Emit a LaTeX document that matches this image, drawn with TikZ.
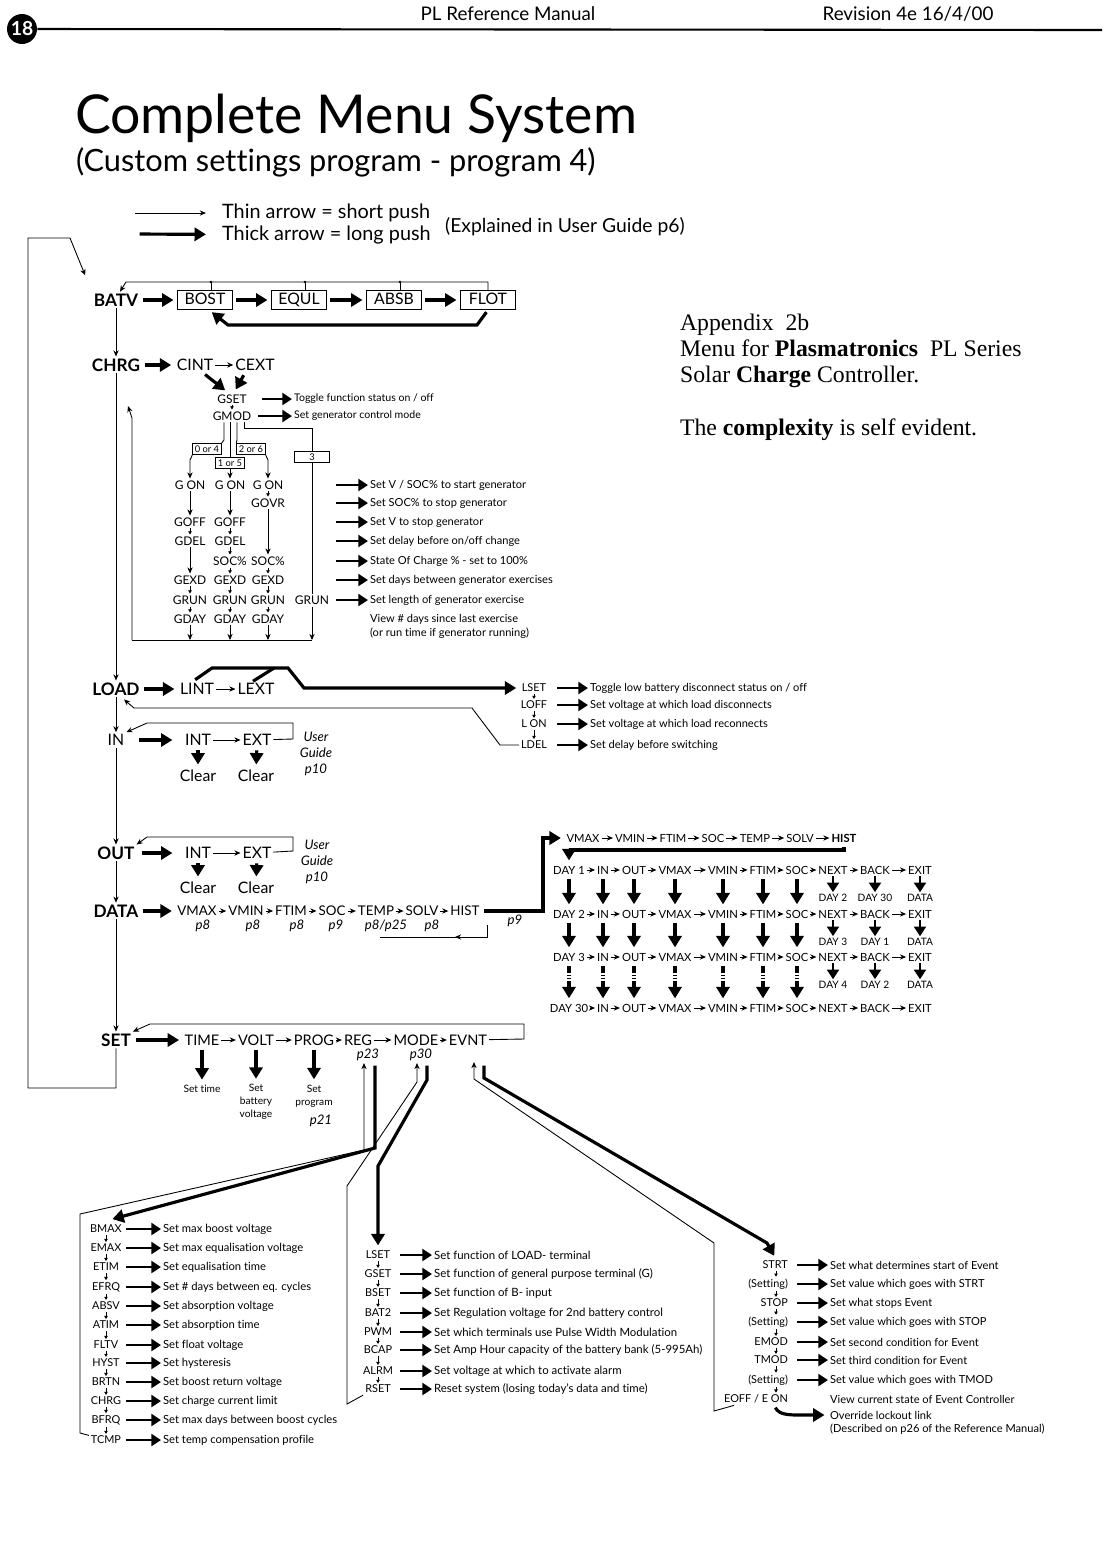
\documentclass[tikz,border=0pt]{standalone}
\usepackage{fontspec}
\setmainfont{Lato}[Ligatures=NoCommon]
\newfontfamily\appendixfont{Liberation Serif}
\usetikzlibrary{arrows.meta}

\begin{document}
\begin{tikzpicture}[
	x=0.02cm, y=-0.02cm,
	every node/.style={inner sep=1pt},
	pagehead/.style={font=\fontsize{10.7}{12}\selectfont},
	mtop/.style={font=\fontsize{9.8}{11}\selectfont\bfseries},
	msub/.style={font=\fontsize{9}{11}\selectfont},
	mrow/.style={font=\fontsize{7.6}{9}\selectfont},
	mset/.style={font=\fontsize{8.3}{10}\selectfont},
	mitem/.style={font=\fontsize{6.8}{8}\selectfont},
	mlist/.style={font=\fontsize{6.2}{7.5}\selectfont},
	mcell/.style={font=\fontsize{6.4}{8}\selectfont},
	mnote/.style={font=\fontsize{5.8}{7.4}\selectfont, align=center},
	minfo/.style={font=\fontsize{6.3}{8}\selectfont, anchor=west},
	mpage/.style={font=\fontsize{7.5}{9}\selectfont\itshape},
	mchoice/.style={draw, line width=0.5pt, font=\fontsize{5.3}{6}\selectfont, inner sep=1.2pt},
	mbox/.style={draw, line width=0.6pt, font=\fontsize{9}{11}\selectfont, minimum width=1.1cm, minimum height=0.38cm, text height=6.6pt, text depth=1.2pt},
	appx/.style={font=\appendixfont\fontsize{13.5}{15}\selectfont, anchor=base west},
	wire/.style={line width=0.5pt},
	push/.style={line width=0.5pt, -{Stealth[length=3.5pt, width=3pt]}},
	hold/.style={line width=1.8pt, -{Triangle[length=6.5pt, width=7.5pt]}, shorten >=2pt, shorten <=1.5pt},
	tell/.style={line width=1.6pt, -{Triangle[length=5.5pt, width=6.8pt]}},
	hop/.style={line width=0.4pt, -{Triangle[length=1.8pt, width=2pt]}},
	]
	\fill[white] (0,0) rectangle (1102,1543);

	% page header
	\node[circle, fill=black, text=white, minimum size=0.6cm, inner sep=0pt, font=\fontsize{11}{11}\selectfont\bfseries] (pgno) at (22,29) {18};
	\coordinate (ruleend) at (1102,30);
	\draw[line width=1.2pt] (pgno) -- (ruleend);
	\node[pagehead] (manual) at (508,14) {PL Reference Manual};
	\node[pagehead] (revision) at (908,14) {Revision 4e 16/4/00};

	\node[anchor=west, font=\fontsize{30.5}{34}\selectfont] (title) at (73,118) {Complete Menu System};
	\node[anchor=west, font=\fontsize{17.5}{20}\selectfont] (subtitle) at (74,162) {(Custom settings program - program 4)};

	% legend
	\coordinate (lgthin) at (135,213);
	\coordinate (lgthick) at (137,234);
	\node[anchor=west, font=\fontsize{11.3}{13}\selectfont] (lgshort) at (220,213) {Thin arrow = short push};
	\node[anchor=west, font=\fontsize{11.3}{13}\selectfont] (lglong) at (220,235) {Thick arrow = long push};
	\node[anchor=west, font=\fontsize{11}{13}\selectfont] (lgref) at (443,227) {(Explained in User Guide p6)};
	\draw[push, shorten >=8pt] (lgthin) -- (lgshort);
	\draw[hold, shorten >=8pt] (lgthick) -- (lglong);

	% appendix note
	\node[appx] (appx1) at (678,330) {Appendix\ \ 2b};
	\node[appx] (appx2) at (678,356) {Menu for \textbf{Plasmatronics}\ \ PL Series};
	\node[appx] (appx3) at (678,382) {Solar \textbf{Charge} Controller.};
	\node[appx] (appx4) at (678,435) {The \textbf{complexity} is self evident.};

	% main menu column
	\node[mtop] (batv) at (116,300) {BATV};
	\node[mtop] (chrg) at (116,365) {CHRG};
	\node[mtop] (load) at (116,689) {LOAD};
	\node[msub] (inmenu) at (116,740) {IN};
	\node[mtop] (out) at (116,853) {OUT};
	\node[mtop] (data) at (116,911) {DATA};
	\node[mtop] (set) at (116,1040) {SET};
	\draw[push] (batv) -- (chrg);
	\draw[push] (chrg) -- (load);
	\draw[push] (load) -- (inmenu);
	\draw[push] (inmenu) -- (out);
	\draw[push] (out) -- (data);
	\draw[push] (data) -- (set);

	% back to the top
	\coordinate (lpb) at (28,1088);
	\coordinate (lpc) at (28,238);
	\coordinate (lpd) at (70,238);
	\draw[push, shorten >=10pt] (set) |- (lpb) -- (lpc) -- (lpd) -- (batv.north west);

	% BATV
	\node[mbox] (bost) at (205,300) {BOST};
	\node[mbox] (equl) at (299,300) {EQUL};
	\node[mbox] (absb) at (394,300) {ABSB};
	\node[mbox] (flot) at (488,300) {FLOT};
	\draw[hold] (batv) -- (bost);
	\draw[hold] (bost) -- (equl);
	\draw[hold] (equl) -- (absb);
	\draw[hold] (absb) -- (flot);
	\coordinate (fr1) at (477,325);
	\coordinate (fr2) at (228,325);
	\draw[hold] (flot.south) -- (fr1) -- (fr2) -- ([shift={(4,0)}]bost.south);
	\coordinate (bt1) at (126,282);
	\coordinate (bt2) at (211,282);
	\coordinate (bt3) at (305,282);
	\coordinate (bt4) at (400,282);
	\draw[push] (flot.north) |- (bt1) -- ([shift={(4,0)}]batv.north);
	\draw[wire] (bost.north -| bt2) -- (bt2);
	\draw[wire] (equl.north -| bt3) -- (bt3);
	\draw[wire] (absb.north -| bt4) -- (bt4);
	\fill (bt2) circle (1.4) (bt3) circle (1.4) (bt4) circle (1.4);

	% CHRG
	\node[msub] (cint) at (195,365) {CINT};
	\node[msub] (cext) at (255,365) {CEXT};
	\node[mitem] (gset) at (232,399) {GSET};
	\node[mitem] (gmod) at (232,416) {GMOD};
	\draw[hold] (chrg) -- (cint);
	\draw[push] (cint) -- (cext);
	\draw[hold] ([shift={(8,0)}]cint.south) -- ([shift={(-4,0)}]gset.north);
	\draw[hold] ([shift={(-10,0)}]cext.south) -- ([shift={(2,0)}]gset.north);
	\draw[hop] (gset) -- (gmod);
	\coordinate (gsa) at (262,399);
	\coordinate (gma) at (258,416);
	\node[minfo, font=\fontsize{6}{7}\selectfont] (gsd) at (292,399) {Toggle function status on / off};
	\node[minfo, font=\fontsize{6}{7}\selectfont] (gmd) at (292,416) {Set generator control mode};
	\draw[tell] (gsa) -- (gsd);
	\draw[tell] (gma) -- (gmd);

	% generator modes
	\node[mchoice] (opt04) at (207,449) {0 or 4};
	\node[mchoice] (opt15) at (230,463) {1 or 5};
	\node[mchoice] (opt26) at (251,449) {2 or 6};
	\node[mchoice, minimum width=0.7cm] (opt3) at (312,457) {3};
	\coordinate (gb1) at (224,440);
	\coordinate (gb3) at (237,440);
	\coordinate (gb4) at (244,428);
	\coordinate (gb5) at (312,428);
	\draw[wire] ([shift={(-8,0)}]gmod.south) -- (gb1) -- (opt04.north east);
	\draw[wire] ([shift={(-2,0)}]gmod.south) -- (opt15.north);
	\draw[wire] ([shift={(5,0)}]gmod.south) -- (gb3) -- (opt26.north west);
	\draw[wire] ([shift={(12,0)}]gmod.south) -- (gb4) -- (gb5) -- (opt3.north);

	\node[mitem] (g1on)  at (190,485) {G ON};
	\node[mitem] (g2on)  at (230,485) {G ON};
	\node[mitem] (g3on)  at (268,485) {G ON};
	\node[mitem] (g3ovr) at (268,503) {GOVR};
	\node[mitem] (g1off) at (190,522) {GOFF};
	\node[mitem] (g2off) at (230,522) {GOFF};
	\node[mitem] (g1del) at (190,541) {GDEL};
	\node[mitem] (g2del) at (230,541) {GDEL};
	\node[mitem] (g2soc) at (230,561) {SOC\%};
	\node[mitem] (g3soc) at (268,561) {SOC\%};
	\node[mitem] (g1exd) at (190,580) {GEXD};
	\node[mitem] (g2exd) at (230,580) {GEXD};
	\node[mitem] (g3exd) at (268,580) {GEXD};
	\node[mitem] (g1run) at (190,600) {GRUN};
	\node[mitem] (g2run) at (230,600) {GRUN};
	\node[mitem] (g3run) at (268,600) {GRUN};
	\node[mitem] (g4run) at (312,600) {GRUN};
	\node[mitem] (g1day) at (190,619) {GDAY};
	\node[mitem] (g2day) at (230,619) {GDAY};
	\node[mitem] (g3day) at (268,619) {GDAY};

	\coordinate (gk1) at (190,460);
	\coordinate (gk3) at (268,460);
	\draw[push] (opt04.south west) -- (gk1) -- (g1on);
	\draw[push] (opt15.south) -- (g2on);
	\draw[push] (opt26.south east) -- (gk3) -- (g3on);
	\draw[wire] (opt3) -- (g4run);

	\draw[push] (g1on) -- (g1off);
	\draw[hop] (g1off) -- (g1del);
	\draw[push] (g1del) -- (g1exd);
	\draw[push] (g2on) -- (g2off);
	\draw[hop] (g2off) -- (g2del);
	\draw[hop] (g2del) -- (g2soc);
	\draw[hop] (g2soc) -- (g2exd);
	\draw[hop] (g3on) -- (g3ovr);
	\draw[push] (g3ovr) -- (g3soc);
	\draw[hop] (g3soc) -- (g3exd);
	\foreach \c in {1,2,3}{
		\draw[hop] (g\c exd) -- (g\c run);
		\draw[hop] (g\c run) -- (g\c day);
	}

	% generator return
	\coordinate (gd0) at (132,640);
	\coordinate (gd1) at (190,640);
	\coordinate (gd2) at (230,640);
	\coordinate (gd3) at (268,640);
	\coordinate (gd4) at (312,640);
	\coordinate (gup) at (132,418);
	\coordinate (gtip) at (128,406);
	\draw[push] (g1day) -- (gd1);
	\draw[push] (g2day) -- (gd2);
	\draw[push] (g3day) -- (gd3);
	\draw[push] (g4run) -- (gd4);
	\draw[wire] (gd4) -- (gd0);
	\draw[push] (gd0) -- (gup) -- (gtip);

	\foreach \i/\y/\txt in {1/485/{Set V / SOC\% to start generator}, 2/503/{Set SOC\% to stop generator},
		3/522/{Set V to stop generator}, 4/541/{Set delay before on/off change},
		5/561/{State Of Charge \% - set to 100\%}, 6/580/{Set days between generator exercises},
		7/600/{Set length of generator exercise}}{
		\coordinate (ga\i) at (336,\y);
		\node[minfo] (gt\i) at (368,\y) {\txt};
		\draw[tell] (ga\i) -- (gt\i);
	}
	\node[minfo, align=left] (gview) at (368,626) {View \# days since last exercise\\(or run time if generator running)};

	% LOAD
	\node[msub] (lint) at (197,689) {LINT};
	\node[msub] (lext) at (256,689) {LEXT};
	\draw[hold] (load) -- (lint);
	\draw[push] (lint) -- (lext);
	\foreach \i/\y/\lbl/\txt in {1/688/LSET/{Toggle low battery disconnect status on / off},
		2/705/LOFF/{Set voltage at which load disconnects},
		3/724/L ON/{Set voltage at which load reconnects},
		4/745/LDEL/{Set delay before switching}}{
		\node[mlist] (ll\i) at (534,\y) {\lbl};
		\coordinate (la\i) at (557,\y);
		\node[minfo] (lt\i) at (588,\y) {\txt};
		\draw[tell] (la\i) -- (lt\i);
	}
	\foreach \a/\b in {1/2, 2/3, 3/4}{
		\draw[hop] (ll\a) -- (ll\b);
	}
	\coordinate (lk1) at (212,668);
	\coordinate (lk2) at (288,668);
	\coordinate (lk3) at (304,688);
	\coordinate (lk4) at (274,668);
	\draw[hold] ([shift={(-4,0)}]lint.north) -- (lk1) -- (lk2) -- (lk3) -- (ll1);
	\draw[line width=1.8pt] ([shift={(-3,0)}]lext.north) -- (lk4);
	\coordinate (lr1) at (500,745);
	\coordinate (lr2) at (472,708);
	\coordinate (lr3) at (134,708);
	\draw[push] (ll4) -- (lr1) -- (lr2) -- (lr3) -- ([shift={(8,2)}]load.south);

	% IN
	\node[msub] (inint) at (198,740) {INT};
	\node[msub] (inext) at (257,740) {EXT};
	\node[msub] (inclr1) at (198,776) {Clear};
	\node[msub] (inclr2) at (256,776) {Clear};
	\node[mpage, align=center] (inref) at (316,754) {User\\Guide\\p10};
	\draw[hold, shorten <=7pt, shorten >=6pt] (inmenu) -- (inint);
	\draw[push] (inint) -- (inext);
	\draw[hold] (inint) -- (inclr1);
	\draw[hold] (inext) -- (inclr2);
	\coordinate (ir1) at (293,739);
	\coordinate (ir2) at (293,723);
	\coordinate (ir3) at (147,723);
	\draw[push] (inext) -- (ir1) -- (ir2) -- (ir3) -- (inmenu.north east);

	% OUT
	\node[msub] (outint) at (198,853) {INT};
	\node[msub] (outext) at (257,853) {EXT};
	\node[msub] (outclr1) at (198,888) {Clear};
	\node[msub] (outclr2) at (256,888) {Clear};
	\node[mpage, align=center] (outref) at (317,862) {User\\Guide\\p10};
	\draw[hold, shorten <=3pt, shorten >=6pt] (out) -- (outint);
	\draw[push] (outint) -- (outext);
	\draw[hold] (outint) -- (outclr1);
	\draw[hold] (outext) -- (outclr2);
	\coordinate (or1) at (293,851);
	\coordinate (or2) at (293,837);
	\coordinate (or3) at (147,837);
	\draw[push] (outext) -- (or1) -- (or2) -- (or3) -- (out.north east);

	% DATA
	\node[mrow] (vmax) at (197,911) {VMAX};
	\node[mrow] (vmin) at (246,911) {VMIN};
	\node[mrow] (ftim) at (291,911) {FTIM};
	\node[mrow] (soc)  at (332,911) {SOC};
	\node[mrow] (temp) at (376,911) {TEMP};
	\node[mrow] (solv) at (422,911) {SOLV};
	\node[mrow] (hist) at (465,911) {HIST};
	\draw[hold] (data) -- (vmax);
	\draw[push] (vmax) -- (vmin);
	\draw[push] (vmin) -- (ftim);
	\draw[push] (ftim) -- (soc);
	\draw[push] (soc) -- (temp);
	\draw[push] (temp) -- (solv);
	\draw[push] (solv) -- (hist);
	\node[mpage] (pvmax) at (203,926) {p8};
	\node[mpage] (pvmin) at (253,926) {p8};
	\node[mpage] (pftim) at (297,926) {p8};
	\node[mpage] (psoc)  at (336,926) {p9};
	\node[mpage] (ptemp) at (386,926) {p8/p25};
	\node[mpage] (psolv) at (432,926) {p8};
	\node[mpage] (phist) at (515,921) {p9};
	\coordinate (hr0) at (487,925);
	\coordinate (hr1) at (487,937);
	\coordinate (hr2) at (380,937);
	\coordinate (hr3) at (455,937);
	\draw[wire] (hr0) -- (hr1) -- (hr2);
	\draw[push] (hr1) -- (hr3);

	% history
	\node[mcell] (hvmax) at (583,838) {VMAX};
	\node[mcell] (hvmin) at (630,838) {VMIN};
	\node[mcell] (hftim) at (673,838) {FTIM};
	\node[mcell] (hsoc)  at (713,838) {SOC};
	\node[mcell] (htemp) at (755,838) {TEMP};
	\node[mcell] (hsolv) at (800,838) {SOLV};
	\node[mcell, font=\fontsize{6.4}{8}\selectfont\bfseries] (hhist) at (844,838) {HIST};
	\draw[push] (hvmax) -- (hvmin);
	\draw[push] (hvmin) -- (hftim);
	\draw[push] (hftim) -- (hsoc);
	\draw[push] (hsoc) -- (htemp);
	\draw[push] (htemp) -- (hsolv);
	\draw[push] (hsolv) -- (hhist);
	\coordinate (dh1) at (543,911);
	\coordinate (dh2) at (543,838);
	\draw[hold] (hist) -- (dh1) -- (dh2) -- (hvmax);

	\foreach \r/\y/\d in {1/870/1, 2/914/2, 3/957/3, 4/1008/30}{
		\node[mcell] (dday\r)  at (569,\y) {DAY \d};
		\node[mcell] (din\r)   at (603,\y) {IN};
		\node[mcell] (dout\r)  at (634,\y) {OUT};
		\node[mcell] (dvmax\r) at (675,\y) {VMAX};
		\node[mcell] (dvmin\r) at (723,\y) {VMIN};
		\node[mcell] (dftim\r) at (763,\y) {FTIM};
		\node[mcell] (dsoc\r)  at (797,\y) {SOC};
		\node[mcell] (dnext\r) at (833,\y) {NEXT};
		\node[mcell] (dback\r) at (875,\y) {BACK};
		\node[mcell] (dexit\r) at (920,\y) {EXIT};
		\draw[push] (dday\r) -- (din\r);
		\draw[push] (din\r) -- (dout\r);
		\draw[push] (dout\r) -- (dvmax\r);
		\draw[push] (dvmax\r) -- (dvmin\r);
		\draw[push] (dvmin\r) -- (dftim\r);
		\draw[push] (dftim\r) -- (dsoc\r);
		\draw[push] (dsoc\r) -- (dnext\r);
		\draw[push] (dnext\r) -- (dback\r);
		\draw[push] (dback\r) -- (dexit\r);
	}
	\coordinate (hd1) at (569,850);
	\draw[hold] (hhist.south) |- (hd1) -- (dday1);
	\foreach \c in {day, in, out, vmax, vmin, ftim, soc}{
		\draw[hold] (d\c1) -- (d\c2);
		\draw[hold] (d\c2) -- (d\c3);
		\draw[hold, dash pattern=on 4pt off 1pt on 0.8pt off 1pt on 0.8pt off 1pt] (d\c3) -- (d\c4);
	}
	\foreach \r/\y/\n/\k in {1/898/2/30, 2/942/3/1, 3/985/4/2}{
		\node[mnote] (nx\r) at (833,\y) {DAY \n};
		\node[mnote] (bk\r) at (875,\y) {DAY \k};
		\node[mnote] (ex\r) at (920,\y) {DATA};
		\draw[tell] (dnext\r) -- (nx\r);
		\draw[tell] (dback\r) -- (bk\r);
		\draw[tell] (dexit\r) -- (ex\r);
	}

	% SET
	\node[mset] (sttime) at (202,1040) {TIME};
	\node[mset] (stvolt) at (256,1040) {VOLT};
	\node[mset] (stprog) at (314,1040) {PROG};
	\node[mset] (streg)  at (358,1040) {REG};
	\node[mset] (stmode) at (416,1040) {MODE};
	\node[mset] (stevnt) at (468,1040) {EVNT};
	\draw[hold] (set) -- (sttime);
	\draw[push] (sttime) -- (stvolt);
	\draw[push] (stvolt) -- (stprog);
	\draw[push] (stprog) -- (streg);
	\draw[push] (streg) -- (stmode);
	\draw[push] (stmode) -- (stevnt);
	\coordinate (sr1) at (524,1039);
	\coordinate (sr2) at (524,1024);
	\coordinate (sr3) at (150,1024);
	\draw[push] (stevnt) -- (sr1) -- (sr2) -- (sr3) -- (set.north east);
	\node[mpage] (preg)  at (368,1055) {p23};
	\node[mpage] (pmode) at (421,1055) {p30};
	\node[mnote] (tset) at (202,1089) {Set time};
	\node[mnote] (vset) at (256,1102) {Set\\battery\\voltage};
	\node[mnote] (pset) at (314,1096) {Set\\program};
	\node[mpage] (pprog) at (321,1121) {p21};
	\draw[hold] (sttime) -- (tset);
	\draw[hold] (stvolt) -- (vset);
	\draw[hold] (stprog) -- (pset);

	% REG list
	\foreach \i/\y/\lbl/\txt in {1/1229/BMAX/{Set max boost voltage}, 2/1248/EMAX/{Set max equalisation voltage},
		3/1267/ETIM/{Set equalisation time}, 4/1287/EFRQ/{Set \# days between eq. cycles},
		5/1306/ABSV/{Set absorption voltage}, 6/1325/ATIM/{Set absorption time},
		7/1345/FLTV/{Set float voltage}, 8/1363/HYST/{Set hysteresis},
		9/1382/BRTN/{Set boost return voltage}, 10/1401/CHRG/{Set charge current limit},
		11/1420/BFRQ/{Set max days between boost cycles}, 12/1440/TCMP/{Set temp compensation profile}}{
		\node[mlist] (rg\i) at (106,\y) {\lbl};
		\coordinate (ra\i) at (126,\y);
		\node[minfo, font=\fontsize{6.4}{8}\selectfont] (rd\i) at (161,\y) {\txt};
		\draw[tell] (ra\i) -- (rd\i);
	}
	\foreach \a/\b in {1/2, 2/3, 3/4, 4/5, 5/6, 6/7, 7/8, 8/9, 9/10, 10/11, 11/12}{
		\draw[hop] (rg\a) -- (rg\b);
	}
	\coordinate (rt1) at (375,1148);
	\draw[hold] ([shift={(7,0)}]preg.south) -- (rt1) -- ([shift={(3,-3)}]rg1.north);
	\coordinate (lf1) at (80,1433);
	\coordinate (lf2) at (80,1214);
	\coordinate (lf3) at (364,1150);
	\draw[push] (rg12) -- (lf1) -- (lf2) -- (lf3) -- ([shift={(-4,0)}]preg.south);

	% MODE list
	\foreach \i/\y/\lbl/\txt in {1/1255/LSET/{Set function of LOAD- terminal},
		2/1274/GSET/{Set function of general purpose terminal (G)},
		3/1293/BSET/{Set function of B- input},
		4/1313/BAT2/{Set Regulation voltage for 2nd battery control},
		5/1332/PWM/{Set which terminals use Pulse Width Modulation},
		6/1350/BCAP/{Set Amp Hour capacity of the battery bank (5-995Ah)},
		7/1371/ALRM/{Set voltage at which to activate alarm},
		8/1389/RSET/{Reset system (losing today's data and time)}}{
		\node[mlist] (mo\i) at (378,\y) {\lbl};
		\coordinate (ma\i) at (400,\y);
		\node[minfo, font=\fontsize{6.5}{8}\selectfont] (md\i) at (432,\y) {\txt};
		\draw[tell] (ma\i) -- (md\i);
	}
	\foreach \a/\b in {1/2, 2/3, 3/4, 4/5, 5/6, 6/7, 7/8}{
		\draw[hop] (mo\a) -- (mo\b);
	}
	\coordinate (mt1) at (427,1080);
	\coordinate (mt2) at (378,1166);
	\draw[hold] ([shift={(6,0)}]pmode.south) -- (mt1) -- (mt2) -- (mo1);
	\coordinate (mf1) at (347,1404);
	\coordinate (mf2) at (347,1186);
	\coordinate (mf3) at (417,1082);
	\draw[push] (mo8.south west) -- (mf1) -- (mf2) -- (mf3) -- ([shift={(-4,0)}]pmode.south);

	% EVNT list
	\coordinate (ehx) at (776,0);
	\foreach \i/\y/\lbl/\txt in {1/1265/STRT/{Set what determines start of Event},
		2/1284/(Setting)/{Set value which goes with STRT},
		3/1303/STOP/{Set what stops Event},
		4/1322/(Setting)/{Set value which goes with STOP},
		5/1342/EMOD/{Set second condition for Event},
		6/1360/TMOD/{Set third condition for Event},
		7/1380/(Setting)/{Set value which goes with TMOD}}{
		\node[mlist, anchor=east] (ev\i) at (790,\y) {\lbl};
		\coordinate (eva\i) at (797,\y);
		\node[minfo] (evd\i) at (828,\y) {\txt};
		\draw[tell] (eva\i) -- (evd\i);
	}
	\node[mlist, anchor=east] (ev8) at (790,1399) {EOFF / E ON};
	\node[minfo] (evd8) at (828,1399) {View current state of Event Controller};
	\node[minfo] (eover) at (828,1415) {Override lockout link};
	\node[minfo] (eref) at (828,1429) {(Described on p26 of the Reference Manual)};
	\foreach \a/\b in {1/2, 2/3, 3/4, 4/5, 5/6, 6/7, 7/8}{
		\draw[hop] (ev\a.south -| ehx) -- (ev\b.north -| ehx);
	}
	\draw[hold] ([shift={(-16,0)}]ev8.south east) .. controls (780,1416) and (790,1415) .. (eover.west);
	\coordinate (et0) at (484,1063);
	\coordinate (et1) at (484,1078);
	\coordinate (et2) at (767,1243);
	\draw[hold] (et0) -- (et1) -- (et2) -- (ev1.north -| ehx);
	\coordinate (ef1) at (714,1411);
	\coordinate (ef2) at (714,1243);
	\coordinate (ef3) at (474,1079);
	\coordinate (ef4) at (474,1062);
	\draw[push] ([shift={(12,0)}]ev8.south west) -- (ef1) -- (ef2) -- (ef3) -- (ef4);

\end{tikzpicture}
\end{document}
